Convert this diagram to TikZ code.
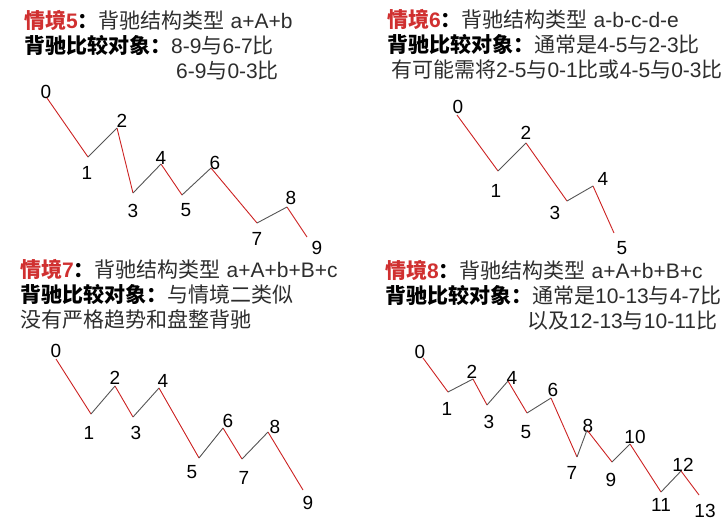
\documentclass[tikz,border=0pt]{standalone}
\usepackage{fontspec}
\setmainfont{Liberation Sans}
\newfontfamily\cjk{Noto Sans CJK SC}
\usetikzlibrary{calc}

\definecolor{segred}{RGB}{204,34,34}
\definecolor{seggray}{RGB}{85,85,85}
\definecolor{titlered}{RGB}{208,48,48}
\definecolor{txtgray}{RGB}{45,45,45}

\newcommand\qjtitle[1]{{\color{titlered}\bfseries{\cjk 情境}#1}{\color{black}\bfseries\cjk ：}}
\newcommand\bdobj{{\color{black}\bfseries\cjk 背驰比较对象：}}

\begin{document}
\begin{tikzpicture}[x=1pt, y=-1pt,
  num/.style  = { font=\fontsize{19}{19}\selectfont, inner sep=0pt },
  down/.style = { draw=segred, line width=0.9pt },
  up/.style   = { draw=seggray, line width=0.9pt },
  head/.style = { anchor=base west, inner sep=0pt, text=txtgray,
                  font=\fontsize{21}{25}\selectfont }]
  \useasboundingbox (0,0) rectangle (727,523);

  % case 5
  \node [head] (t5a) at (24,28)  {\qjtitle{5}{\cjk 背驰结构类型} a+A+b};
  \node [head] (t5b) at (24,53)  {\bdobj 8-9{\cjk 与}6-7{\cjk 比}};
  \node [head] (t5c) at (176,78) {6-9{\cjk 与}0-3{\cjk 比}};
  \foreach \n/\x/\y/\lx/\ly in {0/47/98/46/92, 1/88/157/87/173,
      2/117/128/122/121, 3/133/193/133/211, 4/161/164/161/158,
      5/182/195/186/210, 6/211/168/215/163, 7/257/223/257/239,
      8/287/207/291/198, 9/307/237/317/248} {
    \coordinate (p5-\n) at (\x,\y);
    \node [num] (l5-\n) at (\lx,\ly) {\n};
  }
  \foreach \i in {0,2,...,8} {
    \path let \n1 = { int(\i+1) } in (p5-\i) edge [down] (p5-\n1);
  }
  \foreach \i in {1,3,...,7} {
    \path let \n1 = { int(\i+1) } in (p5-\i) edge [up] (p5-\n1);
  }

  % case 6
  \node [head] (t6a) at (387,27) {\qjtitle{6}{\cjk 背驰结构类型} a-b-c-d-e};
  \node [head] (t6b) at (387,52) {\bdobj{\cjk 通常是}4-5{\cjk 与}2-3{\cjk 比}};
  \node [head] (t6c) at (391,77) {{\cjk 有可能需将}2-5{\cjk 与}0-1{\cjk 比或}4-5{\cjk 与}0-3{\cjk 比}};
  \foreach \n/\x/\y/\lx/\ly in {0/457/115/458/107, 1/498/171/496/191,
      2/526/143/526/133, 3/567/201/555/213, 4/593/186/603/179,
      5/614/233/622/248} {
    \coordinate (p6-\n) at (\x,\y);
    \node [num] (l6-\n) at (\lx,\ly) {\n};
  }
  \foreach \i in {0,2,4} {
    \path let \n1 = { int(\i+1) } in (p6-\i) edge [down] (p6-\n1);
  }
  \foreach \i in {1,3} {
    \path let \n1 = { int(\i+1) } in (p6-\i) edge [up] (p6-\n1);
  }

  % case 7
  \node [head] (t7a) at (20,277) {\qjtitle{7}{\cjk 背驰结构类型} a+A+b+B+c};
  \node [head] (t7b) at (20,302) {\bdobj{\cjk 与情境二类似}};
  \node [head] (t7c) at (20,327) {{\cjk 没有严格趋势和盘整背驰}};
  \foreach \n/\x/\y/\lx/\ly in {0/56/359/56/351, 1/91/414/89/433,
      2/115/386/115/378, 3/133/417/136/433, 4/159/388/163/381,
      5/199/458/192/472, 6/223/428/228/421, 7/242/459/244/478,
      8/268/432/275/427, 9/303/490/308/503} {
    \coordinate (p7-\n) at (\x,\y);
    \node [num] (l7-\n) at (\lx,\ly) {\n};
  }
  \foreach \i in {0,2,...,8} {
    \path let \n1 = { int(\i+1) } in (p7-\i) edge [down] (p7-\n1);
  }
  \foreach \i in {1,3,...,7} {
    \path let \n1 = { int(\i+1) } in (p7-\i) edge [up] (p7-\n1);
  }

  % case 8
  \node [head] (t8a) at (385,278) {\qjtitle{8}{\cjk 背驰结构类型} a+A+b+B+c};
  \node [head] (t8b) at (385,303) {\bdobj{\cjk 通常是}10-13{\cjk 与}4-7{\cjk 比}};
  \node [head] (t8c) at (527,328) {{\cjk 以及}12-13{\cjk 与}10-11{\cjk 比}};
  \foreach \n/\x/\y/\lx/\ly in {0/423/358/420/352, 1/448/392/447/409,
      2/473/379/472/372, 3/487/405/489/422, 4/508/381/512/378,
      5/527/413/526/432, 6/551/398/553/390, 7/577/457/572/473,
      8/587/430/588/426, 9/612/462/611/480, 10/630/444/635/437,
      11/661/492/661/505, 12/681/471/683/465, 13/699/495/705/511} {
    \coordinate (p8-\n) at (\x,\y);
    \node [num] (l8-\n) at (\lx,\ly) {\n};
  }
  \foreach \i in {0,2,...,12} {
    \path let \n1 = { int(\i+1) } in (p8-\i) edge [down] (p8-\n1);
  }
  \foreach \i in {1,3,...,11} {
    \path let \n1 = { int(\i+1) } in (p8-\i) edge [up] (p8-\n1);
  }
\end{tikzpicture}
\end{document}
